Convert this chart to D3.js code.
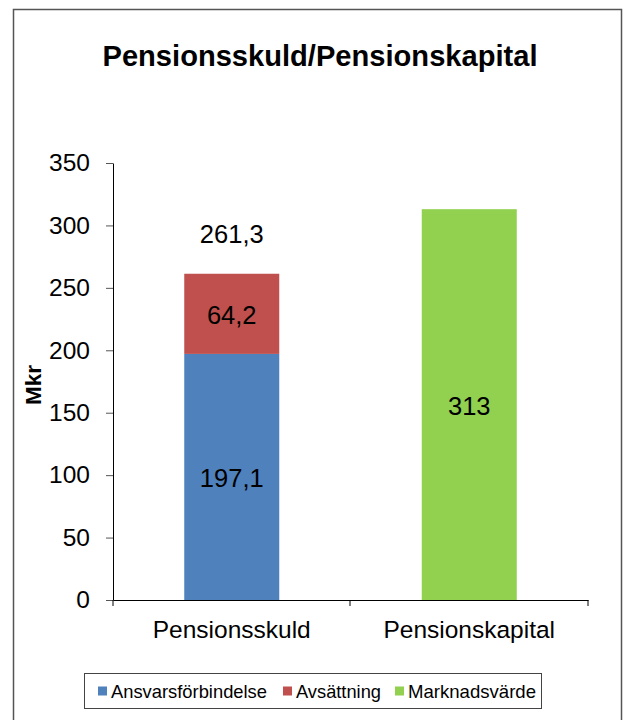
<!DOCTYPE html>
<html><head><meta charset="utf-8">
<script src="https://cdn.jsdelivr.net/npm/d3@7"></script>
<style>body{margin:0;background:#fff}svg{display:block;font-family:"Liberation Sans",Arial,sans-serif}</style>
</head><body><svg id="c" width="627" height="720"></svg>
<script>
const categories = ["Pensionsskuld", "Pensionskapital"];
const seriesNames = ["Ansvarsförbindelse", "Avsättning", "Marknadsvärde"];
const ansvarsforbindelse = [197.1, 0];
const avsattning = [64.2, 0];
const marknadsvarde = [0, 313];
const totals = ["261,3", null];
const valueLabels = [["197,1", null], ["64,2", null], [null, "313"]];
const yTicks = [0, 50, 100, 150, 200, 250, 300, 350];
const colors = ["#4F81BD", "#C0504D", "#92D050"];

const svg = d3.select("#c");
svg.append("rect").attr("x", 13.5).attr("y", 9.5).attr("width", 608).attr("height", 730)
  .attr("fill", "#fff").attr("stroke", "#555").attr("stroke-width", 1.5);

svg.append("text").attr("x", 320).attr("y", 66).attr("text-anchor", "middle")
  .attr("font-size", 29).attr("font-weight", "bold").attr("textLength", 435).attr("lengthAdjust", "spacingAndGlyphs")
  .text("Pensionsskuld/Pensionskapital");

const x = d3.scaleBand().domain(categories).range([113, 588]).paddingInner(0).paddingOuter(0);
const y = d3.scaleLinear().domain([0, 350]).range([600, 163]);
const bw = x.bandwidth() * 0.4;

const data = categories.map((c, i) => ({cat: c, a: ansvarsforbindelse[i], b: avsattning[i], m: marknadsvarde[i]}));
const stack = d3.stack().keys(["a", "b", "m"])(data);

stack.forEach((layer, li) => {
  svg.append("g").selectAll("rect").data(layer).join("rect")
    .attr("x", d => x(d.data.cat) + (x.bandwidth() - bw) / 2)
    .attr("width", bw)
    .attr("y", d => y(d[1]))
    .attr("height", d => y(d[0]) - y(d[1]))
    .attr("fill", colors[li]);
  svg.append("g").selectAll("text").data(layer.filter((d, i) => valueLabels[li][i] !== null && d[1] > d[0]))
    .join("text")
    .attr("x", d => x(d.data.cat) + x.bandwidth() / 2)
    .attr("y", d => (y(d[0]) + y(d[1])) / 2 + 10)
    .attr("text-anchor", "middle").attr("font-size", 25.5)
    .text(d => valueLabels[li][categories.indexOf(d.data.cat)]);
});

svg.append("g").selectAll("text").data(categories.filter((c, i) => totals[i] !== null))
  .join("text")
  .attr("x", c => x(c) + x.bandwidth() / 2)
  .attr("y", c => y(ansvarsforbindelse[categories.indexOf(c)] + avsattning[categories.indexOf(c)]) - 31)
  .attr("text-anchor", "middle").attr("font-size", 25.5)
  .text(c => totals[categories.indexOf(c)]);

const yAxis = svg.append("g").attr("transform", "translate(113,0)")
  .call(d3.axisLeft(y).tickValues(yTicks).tickSize(7).tickSizeOuter(0).tickPadding(16).tickFormat(d3.format("d")));
yAxis.select(".domain").attr("stroke", "#000");
yAxis.selectAll(".tick line").attr("stroke", "#555");
yAxis.selectAll("text").attr("font-size", 24.5).attr("font-family", "Liberation Sans, Arial, sans-serif").attr("fill", "#000");

const xAxis = svg.append("g").attr("transform", "translate(0,600)")
  .call(d3.axisBottom(x).tickSize(0).tickPadding(20.5));
xAxis.select(".domain").attr("stroke", "#000");
xAxis.selectAll("text").attr("font-size", 24.5).attr("font-family", "Liberation Sans, Arial, sans-serif").attr("fill", "#000");
svg.append("g").selectAll("line").data([113, 350, 588]).join("line")
  .attr("x1", d => d).attr("x2", d => d).attr("y1", 600).attr("y2", 606).attr("stroke", "#000");

svg.append("text").attr("transform", "translate(41,385) rotate(-90)").attr("text-anchor", "middle")
  .attr("font-size", 22.5).attr("font-weight", "bold").text("Mkr");

const lg = svg.append("g");
lg.append("rect").attr("x", 84.5).attr("y", 673.5).attr("width", 457).attr("height", 35)
  .attr("fill", "#fff").attr("stroke", "#444");
const lx = [98, 283, 395];
const lw = [156, 85, 128];
seriesNames.forEach((n, i) => {
  lg.append("rect").attr("x", lx[i]).attr("y", 686.5).attr("width", 9).attr("height", 9).attr("fill", colors[i]);
  lg.append("text").attr("x", lx[i] + 13).attr("y", 698).attr("font-size", 18.5)
    .attr("textLength", lw[i]).attr("lengthAdjust", "spacingAndGlyphs").text(n);
});
</script></body></html>
